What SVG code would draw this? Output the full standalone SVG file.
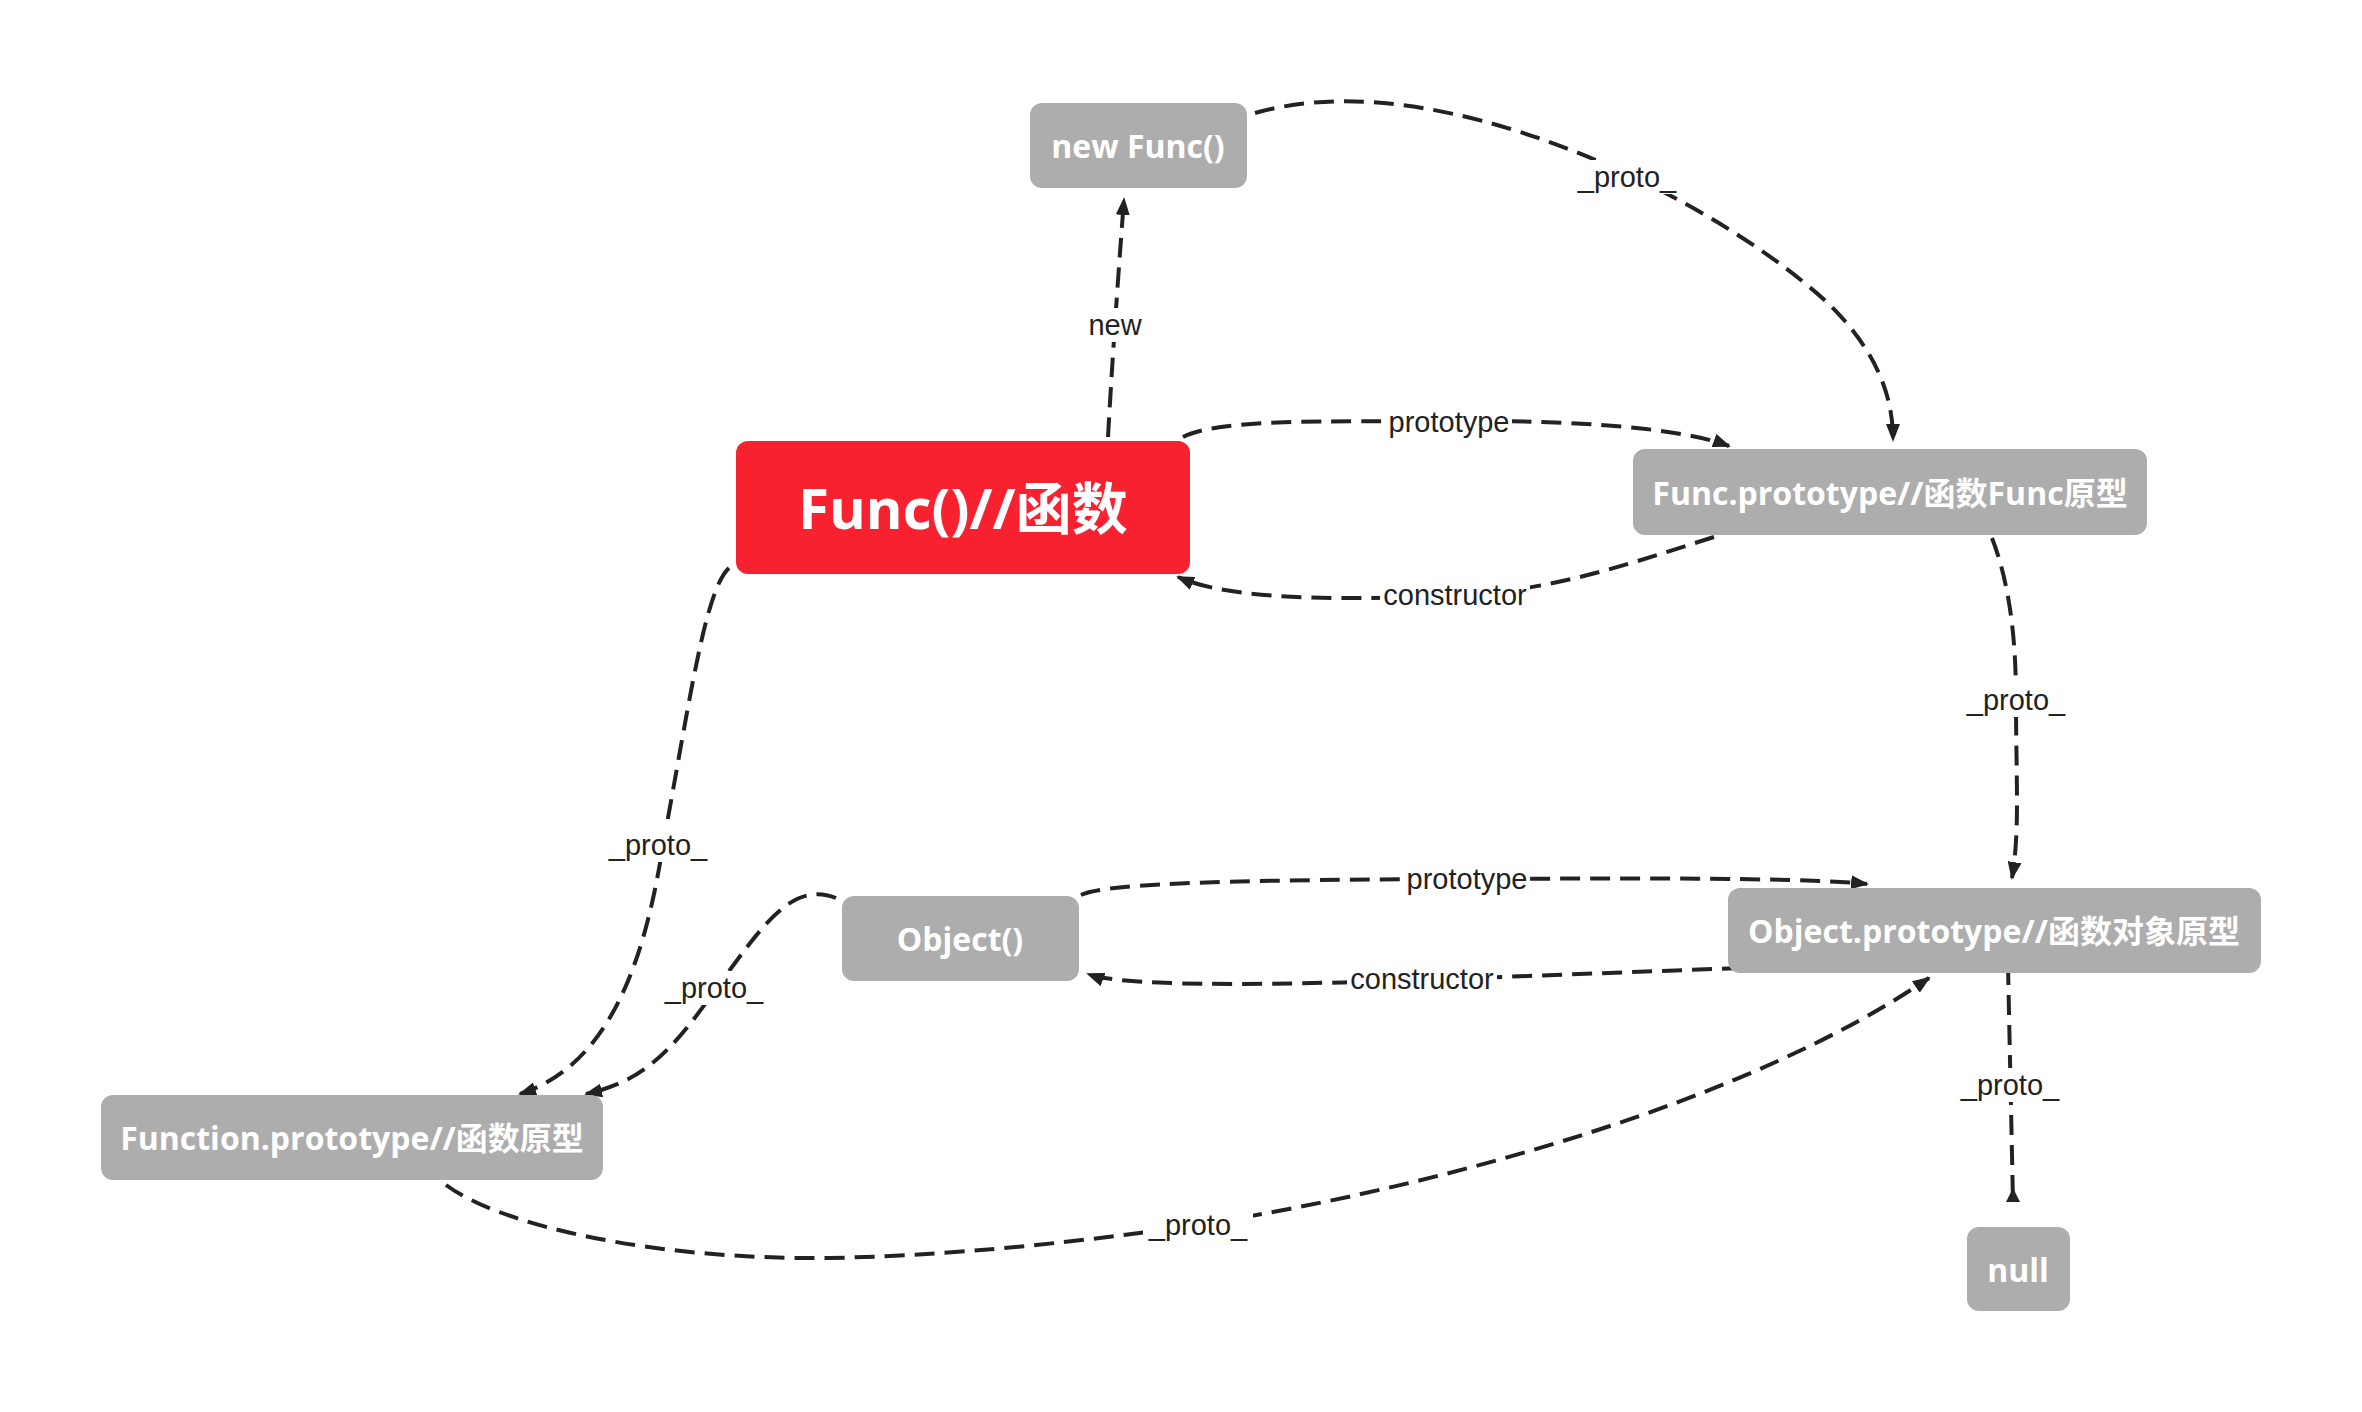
<svg xmlns="http://www.w3.org/2000/svg" width="2362" height="1412" viewBox="0 0 2362 1412">
<style>
.node rect{fill:#adadad}
.node text{fill:#fff;font-family:"Open Sans","Noto Sans CJK SC",sans-serif;font-weight:700;font-size:32px;text-anchor:middle;dominant-baseline:central}
#func rect{fill:#f8212f}
#func text{font-size:56px}
.edge path{fill:none;stroke:#222;stroke-width:4;stroke-dasharray:20 10}
.edge rect{fill:#fff}
.edge text{fill:#222;font-family:"Liberation Sans",Arial,sans-serif;font-size:29px;text-anchor:middle;dominant-baseline:central}
</style>
<defs>
<marker id="arr" markerUnits="userSpaceOnUse" viewBox="0 0 18 14" markerWidth="18" markerHeight="14" refX="16" refY="7" orient="auto"><path d="M0,0 L18,7 L0,14 z" fill="#222"/></marker>
<marker id="arrUp" markerUnits="userSpaceOnUse" viewBox="0 0 14 14" markerWidth="14" markerHeight="14" refX="0" refY="7" orient="-90"><path d="M0,0 L14,7 L0,14 z" fill="#222"/></marker>
</defs>
<rect width="2362" height="1412" fill="#fff"/>
<g id="connectors">
<g class="edge"><path d="M1108,437 Q1114,330 1124,199" marker-end="url(#arr)"/><rect x="1088" y="308" width="56" height="34"/><text x="1115" y="325">new</text></g>
<g class="edge"><path d="M1255,113 C1330,92 1420,100 1520,132 C1640,170 1760,240 1830,305 C1880,355 1893,400 1893,440" marker-end="url(#arr)"/><rect x="1572" y="160" width="110" height="34"/><text x="1627" y="177">_proto_</text></g>
<g class="edge"><path d="M1183,437 C1220,418 1330,422 1449,421 C1580,420 1680,428 1729,446" marker-end="url(#arr)"/><rect x="1386" y="405" width="126" height="34"/><text x="1449" y="422">prototype</text></g>
<g class="edge"><path d="M1714,537 C1640,560 1560,590 1455,596 C1330,600 1230,600 1178,577" marker-end="url(#arr)"/><rect x="1380" y="578" width="150" height="34"/><text x="1455" y="595">constructor</text></g>
<g class="edge"><path d="M1992,538 C2012,590 2016,650 2016,700 C2016,780 2020,830 2012,878" marker-end="url(#arr)"/><rect x="1961" y="683" width="110" height="34"/><text x="2016" y="700">_proto_</text></g>
<g class="edge"><path d="M729,568 C705,590 690,700 663,845 C645,960 610,1065 520,1094" marker-end="url(#arr)"/><rect x="603" y="828" width="110" height="34"/><text x="658" y="845">_proto_</text></g>
<g class="edge"><path d="M836,898 C790,880 760,930 715,990 C670,1055 640,1082 586,1094" marker-end="url(#arr)"/><rect x="659" y="971" width="110" height="34"/><text x="714" y="988">_proto_</text></g>
<g class="edge"><path d="M1081,895 C1110,882 1250,880 1467,879 C1660,878 1810,878 1867,884" marker-end="url(#arr)"/><rect x="1404" y="862" width="126" height="34"/><text x="1467" y="879">prototype</text></g>
<g class="edge"><path d="M1742,968 L1421,980 C1250,986 1120,986 1088,974" marker-end="url(#arr)"/><rect x="1347" y="962" width="150" height="34"/><text x="1422" y="979">constructor</text></g>
<g class="edge"><path d="M446,1185 C500,1225 650,1260 830,1258 C980,1255 1120,1236 1198,1225 C1450,1185 1750,1100 1929,978" marker-end="url(#arr)"/><rect x="1143" y="1208" width="110" height="34"/><text x="1198" y="1225">_proto_</text></g>
<g class="edge"><path d="M2008,965 L2013,1202" marker-end="url(#arrUp)"/><rect x="1955" y="1068" width="110" height="34"/><text x="2010" y="1085">_proto_</text></g>
</g>
<g id="newfunc" class="node"><rect x="1030" y="103" width="217" height="85" rx="12"/><text x="1138" y="145">new Func()</text></g>
<g id="func" class="node"><rect x="736" y="441" width="454" height="133" rx="12"/><text x="963" y="507">Func()//函数</text></g>
<g id="funcproto" class="node"><rect x="1633" y="449" width="514" height="86" rx="12"/><text x="1890" y="492">Func.prototype//函数Func原型</text></g>
<g id="object" class="node"><rect x="842" y="896" width="237" height="85" rx="12"/><text x="960" y="938">Object()</text></g>
<g id="functionproto" class="node"><rect x="101" y="1095" width="502" height="85" rx="12"/><text x="352" y="1137">Function.prototype//函数原型</text></g>
<g id="objectproto" class="node"><rect x="1728" y="888" width="533" height="85" rx="12"/><text x="1994" y="930">Object.prototype//函数对象原型</text></g>
<g id="null" class="node"><rect x="1967" y="1227" width="103" height="84" rx="12"/><text x="2018" y="1269">null</text></g>
</svg>
